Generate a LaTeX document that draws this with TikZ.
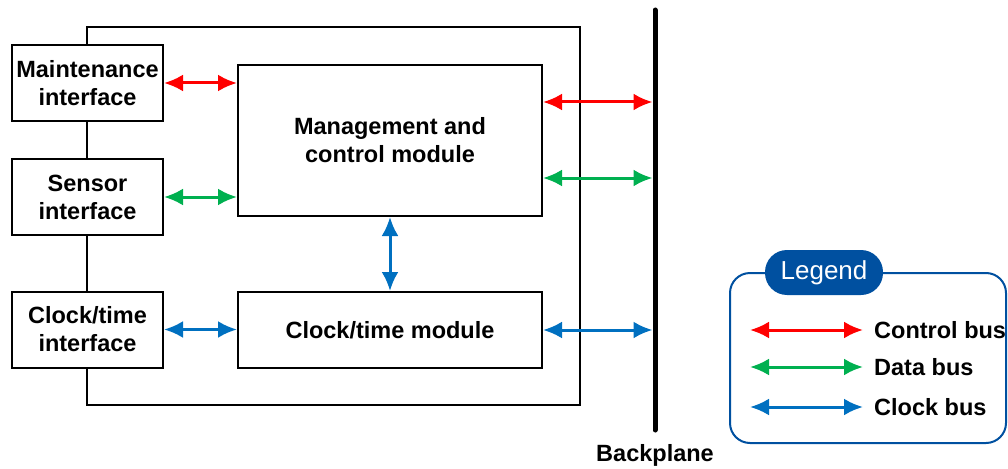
\documentclass[tikz,border=0pt]{standalone}
\usepackage{fontspec}
\setmainfont{Liberation Sans}
\usetikzlibrary{arrows.meta}
\definecolor{cred}{RGB}{255,0,0}
\definecolor{cgreen}{RGB}{0,176,80}
\definecolor{cblue}{RGB}{0,112,192}
\definecolor{cdark}{RGB}{0,80,160}
\tikzset{
  blk/.style={draw=black, line width=2pt, fill=white, align=center, inner sep=0pt,
    font=\fontsize{23.5}{28}\selectfont\bfseries},
  bus/.style={line width=3pt, {Latex[length=19pt,width=17pt]}-{Latex[length=19pt,width=17pt]}},
  frame/.style={draw=black, line width=2pt},
  lbl/.style={font=\fontsize{23.5}{28}\selectfont\bfseries, inner sep=0pt},
}
\begin{document}
\begin{tikzpicture}[x=1pt,y=-1pt]
\useasboundingbox (0,0) rectangle (1008,468);
% outer frame
\draw[frame] (87,27) rectangle (580,405);
% boxes
\node[blk, minimum width=151pt, minimum height=76pt] (maint) at (87.5,83) {Maintenance\\interface};
\node[blk, minimum width=151pt, minimum height=76pt] (sensor) at (87.5,197) {Sensor\\interface};
\node[blk, minimum width=151pt, minimum height=76pt] (clkif) at (87.5,329.5) {Clock/time\\interface};
\node[blk, minimum width=304pt, minimum height=151pt] (mgmt) at (390,140.5) {Management and\\control module};
\node[blk, minimum width=304pt, minimum height=76pt] (clkmod) at (390,330) {Clock/time module};
% backplane
\coordinate (bt) at (655,10);
\coordinate (bb) at (655,430);
\draw[line width=5pt, line cap=round] (bt) -- (bb);
\node[lbl] (bp) at (655,455) {Backplane};
\coordinate (r1) at (652.5,102);
\coordinate (r2) at (652.5,178);
\coordinate (r3) at (652.5,330);
% buses
\draw[bus, cred] (maint.east) -- (maint.east -| mgmt.west);
\draw[bus, cgreen] (sensor.east) -- (sensor.east -| mgmt.west);
\draw[bus, cblue] (clkif.east) -- (clkif.east -| clkmod.west);
\draw[bus, cblue] (mgmt) -- (clkmod);
\draw[bus, cred] (mgmt.east |- r1) -- (r1);
\draw[bus, cgreen] (mgmt.east |- r2) -- (r2);
\draw[bus, cblue] (clkmod.east |- r3) -- (r3);
% legend
\draw[cdark, line width=2pt, rounded corners=20pt] (730,273) rectangle (1006,443);
\node[fill=cdark, text=white, rounded corners=22pt, minimum width=118pt, minimum height=45pt, inner sep=0pt,
  font=\fontsize{26}{28}\selectfont] (leg) at (824,272.5) {Legend};
\coordinate (l1a) at (750,330); \coordinate (l1b) at (863,330);
\coordinate (l2a) at (750,367); \coordinate (l2b) at (863,367);
\coordinate (l3a) at (750,407); \coordinate (l3b) at (863,407);
\draw[bus, cred] (l1a) -- (l1b);
\draw[bus, cgreen] (l2a) -- (l2b);
\draw[bus, cblue] (l3a) -- (l3b);
\node[lbl, anchor=west] (t1) at (874,330) {Control bus};
\node[lbl, anchor=west] (t2) at (874,367) {Data bus};
\node[lbl, anchor=west] (t3) at (874,407) {Clock bus};
\end{tikzpicture}
\end{document}
